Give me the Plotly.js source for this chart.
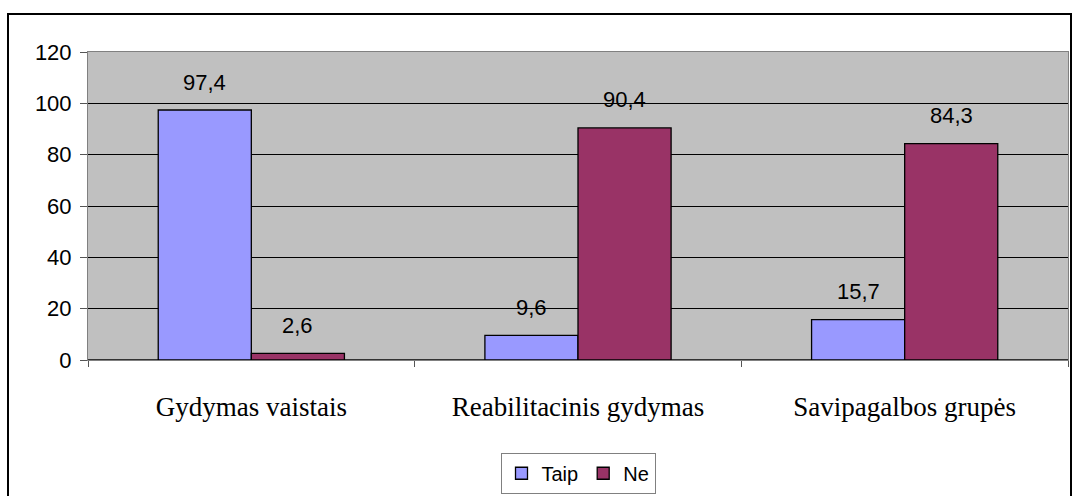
<!DOCTYPE html>
<html><head><meta charset="utf-8">
<script src="https://cdn.plot.ly/plotly-3.0.1.min.js"></script>
<style>
html,body{margin:0;padding:0;background:#fff;}
#frame{position:absolute;left:7px;top:13px;width:1065px;height:500px;border:2px solid #000;box-sizing:border-box;}
#chart{position:absolute;left:0;top:0;width:1072px;height:496px;}
</style></head>
<body>
<div id="frame"></div>
<div id="chart"></div>
<script>
const categories = ["Gydymas vaistais", "Reabilitacinis gydymas", "Savipagalbos grupės"];
const taip = [97.4, 9.6, 15.7];
const ne = [2.6, 90.4, 84.3];
const seriesNames = ["Taip", "Ne"];
const yTicks = [0, 20, 40, 60, 80, 100, 120];

const fmt = v => v.toFixed(1).replace('.', ',');
const arial = 'Arial, Liberation Sans, sans-serif';

const traces = [
  {type:'bar', name:seriesNames[0], x:categories, y:taip,
   marker:{color:'#9999ff', line:{color:'#000', width:1.3}}, hoverinfo:'skip'},
  {type:'bar', name:seriesNames[1], x:categories, y:ne,
   marker:{color:'#993366', line:{color:'#000', width:1.3}}, hoverinfo:'skip'}
];

const annotations = [];
[taip, ne].forEach((arr, si) => {
  arr.forEach((v, i) => {
    annotations.push({x:categories[i], y:v, xref:'x', yref:'y', text:fmt(v),
      showarrow:false, xshift:(si===0?-46.5:46.5), yshift:28,
      font:{family:arial, size:22, color:'#000'}});
  });
});

const layout = {
  width:1072, height:496,
  margin:{l:88, r:4, t:52, b:135},
  paper_bgcolor:'rgba(0,0,0,0)', plot_bgcolor:'#c0c0c0',
  barmode:'group', bargap:0.43, bargroupgap:0,
  showlegend:true,
  legend:{orientation:'h', x:0.5, xanchor:'center', y:-0.297, yanchor:'top',
    bordercolor:'#808080', borderwidth:1, bgcolor:'#fff',
    font:{family:arial, size:20, color:'#000'},
    itemwidth:20, tracegroupgap:0},
  xaxis:{type:'category', tickson:'boundaries', ticks:'outside', ticklen:6, tickcolor:'#555',
    showline:true, linecolor:'#808080', mirror:true, showgrid:false,
    ticklabelstandoff:23,
    tickfont:{family:'Liberation Serif, Times New Roman, serif', size:27, color:'#000'}},
  yaxis:{range:[0,120], tickvals:yTicks, ticks:'outside', ticklen:7, tickcolor:'#555',
    showline:true, linecolor:'#808080', mirror:true,
    showgrid:true, gridcolor:'#000', gridwidth:1, zeroline:true, zerolinecolor:'#333', zerolinewidth:1.5,
    ticklabelstandoff:4,
    tickfont:{family:arial, size:22, color:'#000'}},
  annotations:annotations
};

Plotly.newPlot('chart', traces, layout, {displayModeBar:false, staticPlot:true});
</script>
</body></html>
